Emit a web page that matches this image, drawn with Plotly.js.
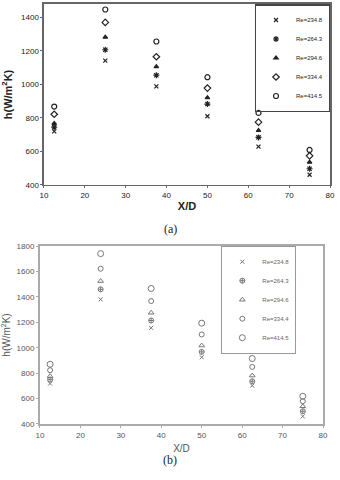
<!DOCTYPE html>
<html>
<head>
<meta charset="utf-8">
<script src="https://cdn.plot.ly/plotly-3.0.1.min.js"></script>
<style>
  html, body { margin: 0; padding: 0; background: white; }
  #chart { width: 340px; height: 480px; }
</style>
</head>
<body>
<div id="chart"></div>
<script>
// X/D positions shared by both panels
const xd = [12.5, 25, 37.5, 50, 62.5, 75];
const reLabels = ['Re=234.8', 'Re=264.3', 'Re=294.6', 'Re=334.4', 'Re=414.5'];

// panel (a), h in W/m2K
const hA_234 = [720, 1142, 988, 810, 629, 461];
const hA_264 = [745, 1207, 1055, 883, 684, 497];
const hA_294 = [767, 1282, 1106, 921, 725, 536];
const hA_334 = [822, 1370, 1165, 978, 775, 574];
const hA_414 = [868, 1447, 1256, 1043, 830, 609];

// panel (b)
const hB_234 = [718, 1380, 1156, 925, 702, 460];
const hB_264 = [749, 1459, 1214, 967, 736, 500];
const hB_294 = [776, 1524, 1275, 1017, 781, 539];
const hB_334 = [823, 1621, 1367, 1104, 849, 579];
const hB_414 = [870, 1740, 1466, 1193, 915, 618];

const seriesA = [hA_234, hA_264, hA_294, hA_334, hA_414];
const seriesB = [hB_234, hB_264, hB_294, hB_334, hB_414];

const symA = ['x-thin-open', 'asterisk-open', 'triangle-up', 'diamond-open', 'circle-open'];
const symB = ['x-thin-open', 'circle-cross-open', 'triangle-up-open', 'circle-open', 'circle-open'];
const sizeA = [4, 5, 4, 5, 5];
const sizeB = [4, 5, 5, 5, 6];

const data = [];
seriesA.forEach((ys, i) => {
  data.push({
    x: xd, y: ys, name: reLabels[i],
    type: 'scatter', mode: 'markers',
    xaxis: 'x', yaxis: 'y', legend: 'legend',
    marker: { symbol: symA[i], size: sizeA[i], color: '#222', line: { color: '#222', width: 1.2 } },
  });
});
seriesB.forEach((ys, i) => {
  data.push({
    x: xd, y: ys, name: reLabels[i],
    type: 'scatter', mode: 'markers',
    xaxis: 'x2', yaxis: 'y2', legend: 'legend2',
    marker: { symbol: symB[i], size: sizeB[i], color: '#777', line: { color: '#777', width: 1 } },
  });
});

const axisA = {
  showline: true, mirror: true, linecolor: '#666', linewidth: 1.5,
  showgrid: false, zeroline: false,
  ticks: 'outside', ticklen: 2, tickcolor: '#666',
  tickfont: { size: 8, color: '#222' },
};
const axisB = {
  showline: true, mirror: true, linecolor: '#aaa', linewidth: 2,
  showgrid: false, zeroline: false,
  ticks: 'outside', ticklen: 2, tickcolor: '#aaa',
  tickfont: { size: 8, color: '#555' },
};

const layout = {
  width: 340, height: 480,
  paper_bgcolor: 'white', plot_bgcolor: 'white',
  font: { family: 'Liberation Sans Narrow, Liberation Sans, Arial, sans-serif' },
  margin: { l: 0, r: 0, t: 0, b: 0 },
  xaxis: {
    ...axisA, domain: [0.1294, 0.9706], range: [10, 80], dtick: 10, anchor: 'y',
    title: { text: '<b>X/D</b>', font: { size: 11, color: '#222' }, standoff: 3 },
  },
  yaxis: {
    ...axisA, domain: [0.6146, 0.9917], range: [400, 1480], tickvals: [400, 600, 800, 1000, 1200, 1400], anchor: 'x',
    title: { text: '<b>h(W/m<sup>2</sup>K)</b>', font: { size: 11, color: '#222' }, standoff: 6 },
  },
  xaxis2: {
    ...axisB, domain: [0.1176, 0.95], range: [10, 80], dtick: 10, anchor: 'y2',
    title: { text: 'X/D', font: { size: 10, color: '#555' }, standoff: 6 },
  },
  yaxis2: {
    ...axisB, domain: [0.1167, 0.4875], range: [400, 1800], dtick: 200, anchor: 'x2',
    title: { text: 'h(W/m<sup>2</sup>K)', font: { size: 10, color: '#555' }, standoff: 5 },
  },
  legend: {
    x: 0.97, y: 0.991, xanchor: 'right', yanchor: 'top',
    bgcolor: 'rgba(255,255,255,0)', bordercolor: '#444', borderwidth: 1.2,
    font: { size: 6, color: '#222' }, itemwidth: 30,
  },
  legend2: {
    x: 0.871, y: 0.4875, xanchor: 'right', yanchor: 'top',
    bgcolor: 'rgba(255,255,255,0)', bordercolor: '#999', borderwidth: 1.2,
    font: { size: 6, color: '#666' }, itemwidth: 30,
  },
  annotations: [
    { text: '(a)', xref: 'paper', yref: 'paper', x: 0.5, y: 0.523, showarrow: false,
      font: { family: 'Liberation Serif, Times New Roman, serif', size: 12, color: '#222' } },
    { text: '(b)', xref: 'paper', yref: 'paper', x: 0.5, y: 0.023, showarrow: false,
      font: { family: 'Liberation Serif, Times New Roman, serif', size: 12, color: '#222' } },
  ],
};

Plotly.newPlot('chart', data, layout, { staticPlot: true });
</script>
</body>
</html>
